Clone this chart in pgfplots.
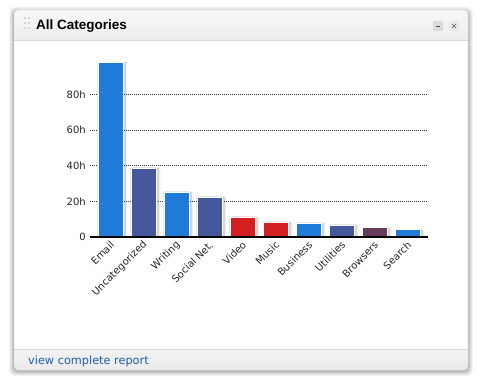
\documentclass[border=0pt]{standalone}
\usepackage{fontspec}
\setmainfont{DejaVu Sans}
\newfontfamily\titlefont{Liberation Sans}
\usepackage{pgfplots}
\pgfplotsset{compat=1.18}
\definecolor{cblue}{RGB}{32,122,216}
\definecolor{cnavy}{RGB}{68,88,155}
\definecolor{cred}{RGB}{212,32,32}
\definecolor{cpurple}{RGB}{104,58,92}
\definecolor{linkblue}{RGB}{30,92,168}
\definecolor{ticktext}{RGB}{35,35,45}
\begin{document}
\begin{tikzpicture}[x=1pt,y=1pt]
\useasboundingbox (0,0) rectangle (479,384);
\fill[white] (0,0) rectangle (479,384);
% panel shadow
\foreach \d/\o in {5/0.04,4/0.05,3/0.06,2/0.07,1/0.08}{
  \fill[black,opacity=\o,rounded corners=5] (14-\d,14-\d-1) rectangle (468+\d,374+\d-2);
}
% panel
\fill[white,rounded corners=4] (14,14) rectangle (468,374);
% title bar
\begin{scope}
\clip[rounded corners=4] (14,14) rectangle (468,374);
\shade[top color=white!97!black,bottom color=white!93!black] (14,344) rectangle (468,374);
\draw[white!85!black] (14,344) -- (468,344);
\shade[top color=white!95!black,bottom color=white!92!black] (14,14) rectangle (468,35);
\draw[white!85!black] (14,35) -- (468,35);
\end{scope}
\draw[white!82!black,rounded corners=4] (14,14) rectangle (468,374);
% grip dots
\foreach \gx in {24,28}{\foreach \gy in {365,360,355}{\fill[white!84!black] (\gx,\gy) rectangle ++(2,2);}}
% title
\node[anchor=base west,inner sep=0pt,font=\titlefont\bfseries\fontsize{13.5}{14}\selectfont] at (36,354.7) {All Categories};
% buttons
\fill[white!86!black] (433,353) rectangle (443,363);
\draw[white!30!black,line width=0.9pt] (436.3,358) -- (439.7,358);
\fill[white!91!black] (449,353) rectangle (459,363);
\draw[white!35!black,line width=0.55pt] (452,356) -- (456,360) (452,360) -- (456,356);
% footer link
\node[anchor=base west,inner sep=0pt,text=linkblue,font=\fontsize{11.3}{12}\selectfont] at (28,20) {view complete report};
\begin{axis}[
  at={(90pt,147pt)}, anchor=south west,
  scale only axis, width=338pt, height=178pt,
  xmin=-0.62, xmax=9.62, ymin=0, ymax=100,
  ybar, bar width=25pt, bar shift=0pt,
  axis x line=bottom, axis y line=left,
  x axis line style={draw=none},
  y axis line style={draw=none},
  major tick length=0pt,
  ytick={0,20,40,60,80},
  yticklabels={0,20h,40h,60h,80h},
  ymajorgrids,
  major grid style={black!80,line width=0.7pt,dash pattern=on 0.8pt off 1.2pt},
  xtick={0,...,9},
  xticklabels={Email,Uncategorized,Writing,Social Net.,Video,Music,Business,Utilities,Browsers,Search},
  tick label style={text=ticktext,font=\fontsize{10}{11}\selectfont},
  yticklabel style={anchor=east,inner sep=0pt,xshift=-4pt},
  xticklabel style={yshift=-6pt,xshift=2pt,rotate=45,anchor=east,inner sep=0pt},
  clip=false,
]
\addplot[fill=black,fill opacity=0.11,draw=none,bar shift=3pt,forget plot] coordinates {
 (0,98.3) (1,38.9) (2,25.4) (3,22.5) (4,11.3) (5,8.5) (6,7.9) (7,6.8) (8,5.2) (9,4.1)};
\addplot[fill=black,fill opacity=0.06,draw=none,bar shift=4.5pt,forget plot] coordinates {
 (0,98.3) (1,38.9) (2,25.4) (3,22.5) (4,11.3) (5,8.5) (6,7.9) (7,6.8) (8,5.2) (9,4.1)};
\addplot[fill=cblue,draw=white,line width=0.5pt] coordinates {(0,98.3) (2,25.4) (6,7.9) (9,4.1)};
\addplot[fill=cnavy,draw=white,line width=0.5pt] coordinates {(1,38.9) (3,22.5) (7,6.8)};
\addplot[fill=cred,draw=white,line width=0.5pt] coordinates {(4,11.3) (5,8.5)};
\addplot[fill=cpurple,draw=white,line width=0.5pt] coordinates {(8,5.2)};
\addplot[sharp plot,black,line width=2.2pt,forget plot] coordinates {(-0.62,0) (9.62,0)};
\end{axis}
\end{tikzpicture}
\end{document}
